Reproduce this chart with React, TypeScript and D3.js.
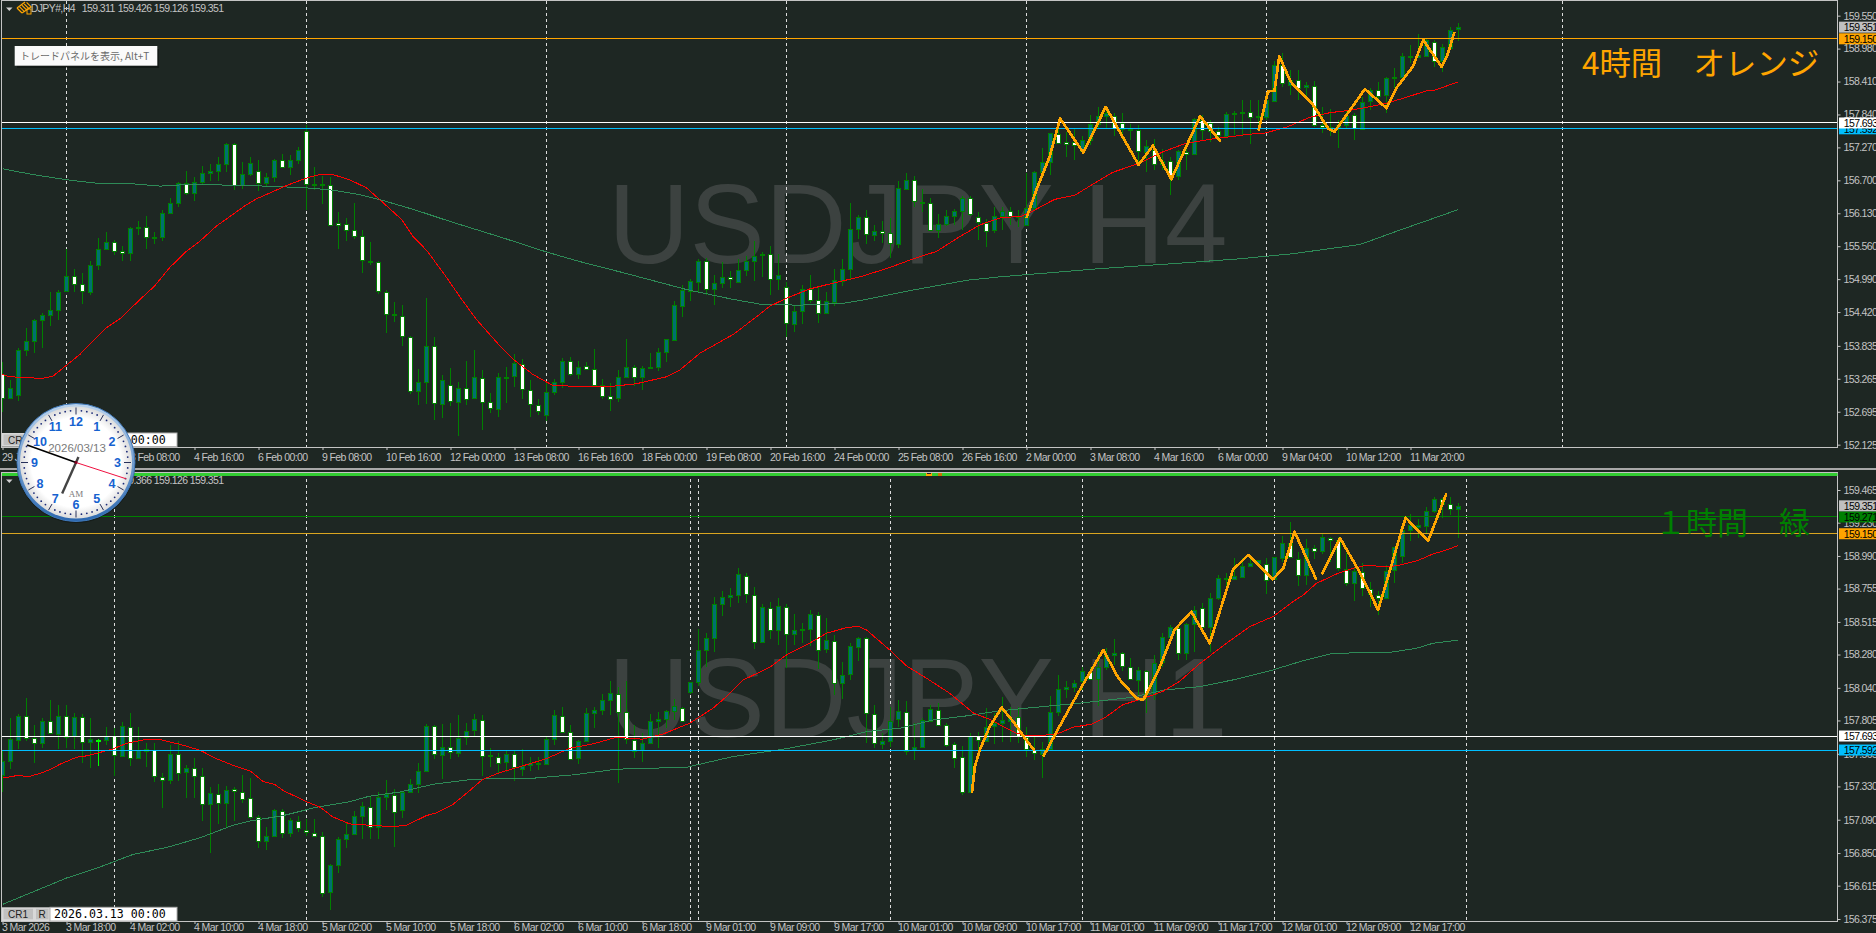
import { useEffect, useRef } from 'react';
import * as d3 from 'd3';

// bars are [open, high, low, close]
type Bar = [number, number, number, number];
type Pt = [number, number]; // [bar index, price]

const h4Bars: Bar[] = [
  [153.34,153.55,152.69,152.92],[152.92,153.25,152.92,153.10],[152.99,153.80,152.88,153.77],[153.76,154.15,153.66,153.92],[153.92,154.30,153.72,154.29],
  [154.28,154.40,153.80,154.37],[154.37,154.77,154.18,154.46],[154.45,154.81,154.29,154.77],[154.79,155.51,154.78,155.05],[155.05,155.16,154.77,154.91],
  [154.91,155.09,154.56,154.79],[154.78,155.30,154.71,155.24],[155.23,155.71,155.15,155.51],[155.51,155.80,155.50,155.63],[155.63,155.66,155.40,155.48],
  [155.48,155.57,155.30,155.44],[155.44,155.89,155.30,155.88],[155.87,156.00,155.76,155.89],[155.89,156.08,155.52,155.72],[155.72,155.81,155.59,155.71],
  [155.71,156.19,155.65,156.13],[156.13,156.39,156.12,156.31],[156.31,156.67,156.23,156.65],[156.65,156.87,156.45,156.48],[156.48,156.75,156.35,156.67],
  [156.67,156.95,156.62,156.83],[156.83,156.99,156.68,156.86],[156.86,157.10,156.68,156.98],[156.98,157.34,156.85,157.33],[157.33,157.34,156.53,156.62],
  [156.62,157.02,156.55,156.81],[156.81,157.10,156.77,157.00],[156.86,157.05,156.51,156.65],[156.65,156.83,156.60,156.76],[156.76,157.07,156.67,157.05],
  [157.05,157.16,156.91,156.93],[156.93,157.14,156.79,157.05],[157.05,157.28,156.99,157.22],[157.55,157.65,156.19,156.64],[156.63,156.93,156.53,156.64],
  [156.63,156.78,156.29,156.64],[156.62,156.76,155.91,155.93],[155.96,156.15,155.52,155.93],[155.95,156.04,155.65,155.84],[155.84,156.30,155.68,155.74],
  [155.73,155.84,155.09,155.31],[155.30,155.64,155.24,155.29],[155.28,155.31,154.74,154.77],[154.77,154.81,154.05,154.39],[154.39,154.60,154.25,154.38],
  [154.35,154.54,153.83,154.00],[153.99,154.00,153.00,153.06],[153.06,153.43,152.81,153.21],[153.21,154.67,152.83,153.83],[153.83,153.98,152.55,152.84],
  [152.84,153.33,152.58,153.25],[153.15,153.46,152.80,152.88],[152.87,153.21,152.28,153.11],[153.11,153.57,152.81,152.92],[152.92,153.77,152.91,153.29],
  [153.28,153.42,152.38,152.87],[152.87,153.02,152.67,152.76],[152.73,153.36,152.61,153.29],[153.28,153.47,152.85,153.30],[153.30,153.69,153.12,153.53],
  [153.52,153.60,152.91,153.08],[153.07,153.24,152.61,152.82],[152.81,152.91,152.64,152.70],[152.64,153.21,152.53,153.03],[153.03,153.27,152.99,153.21],
  [153.21,153.63,153.10,153.58],[153.57,153.65,153.31,153.35],[153.35,153.58,153.26,153.47],[153.49,153.55,153.42,153.44],[153.44,153.78,153.15,153.17],
  [153.16,153.27,152.92,152.97],[152.97,153.20,152.71,152.91],[152.92,153.41,152.87,153.29],[153.29,153.95,153.28,153.47],[153.47,153.50,153.14,153.30],
  [153.30,153.48,153.07,153.46],[153.46,153.72,153.45,153.47],[153.47,153.80,153.40,153.73],[153.73,153.96,153.56,153.96],[153.95,154.62,153.92,154.55],
  [154.54,154.88,154.33,154.81],[154.79,155.00,154.62,154.96],[154.95,155.34,154.75,155.31],[155.31,155.36,154.71,154.82],[154.82,155.06,154.54,154.93],
  [154.93,155.29,154.83,155.03],[155.02,155.13,154.83,154.98],[154.94,155.33,154.93,155.15],[155.15,155.39,155.05,155.31],[155.30,155.65,154.95,155.39],
  [155.41,155.46,155.03,155.43],[155.42,155.56,154.71,154.99],[154.99,155.43,154.81,155.06],[154.85,154.94,153.99,154.22],[154.22,154.52,154.07,154.44],
  [154.44,154.88,154.22,154.82],[154.82,155.06,154.58,154.63],[154.63,154.85,154.23,154.41],[154.41,154.77,154.40,154.61],[154.60,155.16,154.52,154.98],
  [154.97,155.33,154.87,155.17],[155.17,156.30,154.97,155.86],[155.86,156.10,155.69,156.07],[156.06,156.19,155.59,155.77],[155.75,155.93,155.65,155.82],
  [155.82,156.00,155.62,155.79],[155.78,156.05,155.35,155.60],[155.60,156.68,155.53,156.57],[156.56,156.83,156.54,156.71],[156.70,156.77,156.24,156.33],
  [156.33,156.55,156.16,156.32],[156.30,156.40,155.82,155.84],[155.84,156.11,155.70,155.94],[155.94,156.19,155.91,156.08],[156.08,156.20,155.92,156.17],
  [156.17,156.43,155.84,156.39],[156.39,156.43,156.08,156.12],[156.06,156.15,155.66,155.98],[155.97,156.03,155.54,155.84],[155.84,156.24,155.78,156.08],
  [156.08,156.24,155.84,156.17],[156.17,156.24,155.92,156.08],[156.09,156.19,155.90,156.07],[155.93,156.82,155.92,156.22],[156.22,156.86,156.19,156.84],
  [156.84,157.26,156.77,157.01],[157.01,157.52,156.80,157.52],[157.51,157.75,157.33,157.36],[157.36,157.53,157.11,157.33],[157.36,157.60,157.06,157.30],
  [157.20,157.46,157.17,157.39],[157.39,157.83,157.32,157.67],[157.67,157.97,157.58,157.81],[157.81,157.97,157.60,157.86],[157.82,157.87,157.46,157.62],
  [157.70,157.86,157.40,157.60],[157.58,157.68,157.40,157.56],[157.57,157.66,157.01,157.20],[157.20,157.40,156.85,157.30],[157.22,157.41,156.88,156.98],
  [156.97,157.25,156.88,157.03],[157.03,157.11,156.44,156.77],[156.77,157.22,156.71,157.20],[157.19,157.34,156.88,157.16],[157.15,157.78,157.13,157.76],
  [157.75,157.83,157.40,157.57],[157.69,157.75,157.37,157.56],[157.55,157.62,157.40,157.48],[157.47,157.88,157.46,157.85],[157.84,157.90,157.49,157.86],
  [157.86,158.09,157.46,157.88],[157.88,158.09,157.33,157.79],[157.81,158.09,157.55,157.80],[157.80,158.12,157.75,158.09],[158.08,158.76,158.07,158.70],
  [158.69,158.90,158.32,158.37],[158.36,158.61,158.18,158.44],[158.43,158.61,158.09,158.30],[158.31,158.41,158.09,158.35],[158.34,158.42,157.63,157.66],
  [157.66,157.97,157.52,157.63],[157.62,157.93,157.46,157.63],[157.61,157.75,157.26,157.66],[157.66,157.92,157.58,157.82],[157.83,157.87,157.39,157.60],
  [157.60,158.14,157.58,158.06],[158.08,158.29,157.91,158.27],[158.27,158.40,158.03,158.17],[158.17,158.48,157.86,158.47],[158.47,158.64,158.29,158.49],
  [158.48,158.90,158.44,158.85],[158.84,159.04,158.73,158.86],[158.84,159.23,158.81,158.87],[158.86,159.16,158.83,159.13],[159.10,159.13,158.67,158.77],
  [158.76,159.06,158.57,159.00],[159.00,159.35,158.96,159.31],[159.31,159.42,159.12,159.351],
];

const h1Bars: Bar[] = [
  [157.41,157.59,157.29,157.51],[157.51,157.82,157.455,157.67],[157.67,157.85,157.60,157.84],[157.84,157.97,157.66,157.68],[157.676,157.77,157.50,157.64],
  [157.64,157.82,157.61,157.80],[157.80,157.95,157.707,157.712],[157.712,157.92,157.597,157.84],[157.84,157.92,157.61,157.69],[157.69,157.86,157.60,157.83],
  [157.83,157.85,157.50,157.65],[157.645,157.82,157.465,157.67],[157.66,157.67,157.477,157.665],[157.662,157.76,157.63,157.693],[157.69,157.75,157.407,157.55],
  [157.55,157.796,157.544,157.765],[157.76,157.86,157.477,157.54],[157.537,157.755,157.53,157.592],[157.58,157.64,157.472,157.597],[157.592,157.64,157.364,157.402],
  [157.40,157.424,157.177,157.376],[157.374,157.628,157.347,157.56],[157.566,157.657,157.37,157.43],[157.429,157.484,157.249,157.46],[157.46,157.532,157.25,157.402],
  [157.402,157.462,157.083,157.2],[157.2,157.328,156.853,157.28],[157.278,157.347,157.062,157.215],[157.213,157.335,157.035,157.306],[157.314,157.328,157.083,157.297],
  [157.292,157.412,157.208,157.244],[157.249,157.393,157.093,157.114],[157.112,157.124,156.889,156.937],[156.932,157.04,156.872,156.97],[156.968,157.167,156.968,157.158],
  [157.155,157.165,156.958,157.0],[156.992,157.1,156.968,157.086],[157.083,157.117,157.002,157.035],[157.016,157.093,156.973,157.0],[156.997,157.093,156.968,156.978],
  [156.975,157.004,156.536,156.567],[156.567,156.771,156.44,156.762],[156.762,156.968,156.709,156.949],[156.946,157.069,156.889,156.985],[156.982,157.155,156.978,157.114],
  [157.112,157.22,156.951,157.186],[157.184,157.256,156.951,157.04],[157.035,157.287,156.951,157.251],[157.251,157.376,157.16,157.273],[157.27,157.309,156.896,157.15],
  [157.155,157.287,157.102,157.287],[157.285,157.381,157.28,157.345],[157.342,157.501,157.285,157.438],[157.436,157.779,157.431,157.762],[157.762,157.772,157.525,157.561],
  [157.558,157.779,157.383,157.616],[157.616,157.784,157.527,157.578],[157.575,157.842,157.544,157.681],[157.681,157.784,157.628,157.726],[157.731,157.849,157.688,157.813],
  [157.81,157.842,157.407,157.554],[157.554,157.604,157.472,157.549],[157.544,157.568,157.424,157.503],[157.502,157.593,157.437,157.562],[157.567,157.593,157.372,157.471],
  [157.459,157.598,157.408,157.48],[157.48,157.54,157.442,157.497],[157.49,157.545,157.449,157.497],[157.49,157.689,157.485,157.67],[157.67,157.881,157.629,157.843],
  [157.84,157.9,157.713,157.727],[157.725,157.773,157.526,157.533],[157.531,157.665,157.492,157.655],[157.653,157.893,157.648,157.857],[157.857,157.905,157.754,157.879],
  [157.879,157.996,157.845,157.951],[157.951,158.09,157.845,158.001],[157.999,158.049,157.353,157.871],[157.869,158.09,157.636,157.675],[157.667,157.771,157.535,157.586],
  [157.588,157.713,157.509,157.641],[157.639,157.852,157.636,157.799],[157.799,157.869,157.607,157.814],[157.814,157.881,157.749,157.871],[157.871,157.958,157.809,157.907],
  [157.898,157.905,157.797,157.807],[158.006,158.085,157.996,158.08],[158.078,158.462,158.056,158.311],[158.308,158.438,158.19,158.397],[158.395,158.692,158.301,158.642],
  [158.639,158.738,158.56,158.692],[158.69,158.762,158.625,158.707],[158.707,158.901,158.654,158.858],[158.848,158.87,158.649,158.721],[158.709,158.769,158.323,158.368],
  [158.366,158.642,158.361,158.62],[158.618,158.659,158.392,158.462],[158.452,158.685,158.349,158.627],[158.625,158.642,158.186,158.433],[158.431,158.572,158.349,158.457],
  [158.464,158.505,158.361,158.459],[158.459,158.601,158.342,158.57],[158.567,158.589,158.179,158.318],[158.315,158.541,158.289,158.383],[158.38,158.421,157.989,158.08],
  [158.078,158.227,157.96,158.133],[158.135,158.361,158.097,158.339],[158.337,158.409,158.234,158.399],[158.397,158.409,157.641,157.857],[157.855,157.917,157.607,157.648],
  [157.634,157.713,157.598,157.655],[157.66,157.905,157.617,157.804],[157.811,157.953,157.756,157.871],[157.869,157.943,157.557,157.591],[157.598,157.785,157.521,157.617],
  [157.615,157.821,157.605,157.807],[157.802,157.919,157.797,157.886],[157.883,157.929,157.768,157.778],[157.775,157.785,157.617,157.634],[157.639,157.653,157.466,157.54],
  [157.545,157.622,157.271,157.295],[157.293,157.713,157.288,157.696],[157.696,157.723,157.569,157.665],[157.66,157.893,157.653,157.761],[157.761,157.857,157.636,157.785],
  [157.79,157.972,157.653,157.809],[157.804,157.905,157.653,157.826],[157.833,157.905,157.641,157.694],[157.689,157.761,157.545,157.6],[157.593,157.701,157.521,157.569],
  [157.564,157.653,157.394,157.598],[157.598,157.982,157.593,157.864],[157.862,158.133,157.838,158.03],[158.03,158.09,157.965,158.044],[158.042,158.097,158.013,158.073],
  [158.085,158.193,158.025,158.159],[158.157,158.193,158.097,158.104],[158.102,158.301,157.91,158.188],[158.193,158.325,158.169,158.277],[158.272,158.392,158.205,158.289],
  [158.289,158.301,158.164,158.198],[158.193,158.253,158.097,158.104],[158.097,158.193,157.989,158.167],[158.164,158.169,157.857,158.001],[157.996,158.277,157.953,158.222],
  [158.222,158.438,158.193,158.404],[158.402,158.493,158.385,158.476],[158.469,158.493,158.241,158.289],[158.289,158.505,158.241,158.498],[158.498,158.63,158.301,158.601],
  [158.613,158.649,158.464,158.474],[158.474,158.721,158.301,158.685],[158.685,158.853,158.673,158.829],[158.827,158.865,158.764,158.834],[158.827,158.973,158.817,158.846],
  [158.841,158.973,158.834,158.92],[158.918,158.997,158.908,158.942],[158.942,158.961,158.913,158.961],[158.935,158.973,158.716,158.822],[158.822,158.985,158.817,158.98],
  [158.975,159.134,158.949,159.081],[159.081,159.232,158.973,158.98],[158.971,159.021,158.774,158.858],[158.858,159.11,158.781,159.05],[159.047,159.069,158.971,159.023],
  [159.021,159.148,159.004,159.124],[159.122,159.129,158.949,159.11],[159.105,159.124,158.882,158.901],[158.899,159.009,158.776,158.8],[158.793,158.901,158.668,158.882],
  [158.875,158.937,158.704,158.759],[158.755,158.805,158.625,158.716],[158.711,158.74,158.565,158.692],[158.692,158.925,158.687,158.884],[158.889,159.057,158.798,159.057],
  [158.99,159.201,158.937,159.177],[159.177,159.29,159.098,159.211],[159.201,159.254,159.117,159.213],[159.201,159.345,159.153,159.311],[159.309,159.412,159.297,159.398],
  [159.398,159.405,159.261,159.364],[159.367,159.412,159.285,159.333],[159.331,159.369,159.122,159.351],
];

const h4Red: Pt[] = [
  [0,153.34],[0.9,153.30],[2.6,153.29],[4.9,153.27],[6.3,153.31],[8,153.50],[9.7,153.69],[11.3,153.92],[13,154.15],[14.75,154.31],[17.2,154.64],[19,154.87],
  [20.9,155.19],[22.8,155.45],[24.7,155.65],[26.75,155.91],[28.8,156.11],[30.3,156.26],[31.75,156.38],[33.4,156.48],[35.5,156.61],[38,156.74],[39.9,156.81],
  [41.3,156.80],[43.4,156.71],[45.5,156.57],[47.6,156.31],[49.9,156.02],[51.3,155.73],[53,155.49],[55.1,155.10],[57.4,154.64],[59.25,154.29],[62.2,153.83],
  [64,153.585],[66.3,153.34],[68.8,153.15],[72.6,153.13],[75.9,153.13],[79.25,153.18],[83,153.30],[84.7,153.42],[87.2,153.71],[91.3,154.03],[93.8,154.29],
  [95.9,154.52],[98,154.66],[100.9,154.82],[103.8,154.92],[107.2,155.03],[110.9,155.19],[113.8,155.34],[116.75,155.47],[119.7,155.73],[122.2,155.93],[124.7,156.05],
  [127.4,156.08],[128.8,156.17],[131.5,156.37],[134,156.44],[136.75,156.67],[138.8,156.84],[142.2,157.0],[145,157.19],[147.9,157.34],[150.9,157.41],[153.8,157.46],
  [155.9,157.50],[157.6,157.51],[160.5,157.62],[163.4,157.79],[165.9,157.87],[168.8,157.92],[172.6,158.02],[175.1,158.12],[178,158.25],[179,158.26],[181.9,158.40],
];
const h4Green: Pt[] = [
  [0,156.90],[3.8,156.80],[8,156.71],[11.75,156.65],[16.3,156.64],[19.7,156.60],[22.2,156.62],[27.2,156.62],[33,156.60],[38,156.57],[41.3,156.53],[44.7,156.45],
  [47.6,156.35],[51.75,156.18],[55.9,155.99],[62.2,155.72],[68,155.46],[72,155.30],[77.9,155.09],[85.5,154.81],[91.3,154.64],[95,154.55],[99.7,154.54],[105,154.57],
  [108,154.64],[113.8,154.80],[120.5,154.97],[124.7,155.03],[137,155.17],[146.5,155.26],[154.5,155.34],[161.3,155.43],[169.7,155.59],[174.7,155.84],[181.9,156.19],
];
const h1Red: Pt[] = [
  [0,157.39],[2,157.41],[3.2,157.40],[4.5,157.42],[5.9,157.45],[7.2,157.49],[9.25,157.54],[10.5,157.55],[12.2,157.575],[13.8,157.60],[15.5,157.64],[17.2,157.66],
  [18,157.67],[19.7,157.667],[22.2,157.633],[24.7,157.59],[26.75,157.53],[28.9,157.48],[31,157.44],[32.6,157.364],[34,157.345],[35.1,157.30],[38,157.22],[39.7,157.18],
  [41.3,157.11],[43.4,157.06],[45.9,157.05],[48.8,157.04],[50.5,157.05],[53,157.12],[54.25,157.14],[56.3,157.20],[58.4,157.30],[60,157.38],[62.2,157.43],[66.3,157.50],
  [68,157.53],[70.9,157.605],[73.8,157.636],[76.75,157.684],[80,157.67],[82.6,157.708],[85.9,157.785],[88.8,157.893],[90.5,157.977],[92.6,158.097],[95.9,158.188],
  [98,158.277],[100.5,158.349],[103,158.433],[105.5,158.474],[106.95,158.483],[108,158.457],[110.9,158.313],[113,158.198],[115.5,158.109],[118.4,158.001],[121.4,157.857],
  [123.8,157.804],[124.7,157.773],[126.75,157.713],[128,157.696],[129.5,157.696],[131.75,157.706],[133.8,157.756],[136.1,157.778],[138,157.833],[140,157.917],[142.6,157.965],
  [145,158.013],[147.1,158.085],[149.7,158.217],[153,158.361],[155.9,158.481],[158.8,158.553],[161.3,158.661],[162.6,158.709],[164.25,158.793],[166.75,158.86],[168.8,158.901],
  [170.5,158.923],[172.2,158.915],[174.25,158.918],[177,158.959],[178.8,159.004],[180.5,159.033],[181.9,159.064],
];
const h1Green: Pt[] = [
  [0,156.48],[3.8,156.57],[8,156.67],[12.2,156.75],[16.3,156.84],[20.5,156.89],[24.7,156.96],[28.8,157.05],[30.9,157.08],[35.1,157.12],[39.25,157.18],[43.4,157.22],
  [45.9,157.26],[49.7,157.29],[53.8,157.345],[58,157.376],[62.2,157.39],[66.3,157.389],[71.3,157.413],[76.75,157.454],[85.5,157.468],[91.3,157.545],[97.6,157.598],
  [103.8,157.665],[108,157.725],[112.2,157.749],[116.4,157.809],[120.5,157.838],[124.7,157.875],[128.8,157.898],[134.5,157.929],[141.2,157.972],[145.3,158.025],[149.7,158.049],
  [153.8,158.097],[158.8,158.169],[162.2,158.229],[166.3,158.289],[173.5,158.296],[176.75,158.325],[178.8,158.361],[181.9,158.383],
];

// hand drawn orange zigzags
const h4Zigzag: Pt[][] = [
  [[128,156.05],[129.25,156.54],[130.9,157.11],[132.2,157.77],[135.1,157.18],[137.9,157.97],[142,156.97],[143.8,157.30],[146.1,156.72],[149.7,157.81],[152.25,157.37]],
  [[157,157.56],[158.2,158.24],[159,158.25],[159.6,158.85],[161,158.41],[163.8,158.01],[165.7,157.60],[166.5,157.54],[170.3,158.28],[173,157.95],[174.25,158.30],[176.3,158.67],[177.6,159.13],[179.9,158.66],[180.7,158.90],[181.5,159.27]],
];
const h1Zigzag: Pt[][] = [
  [[121.17,157.281],[121.54,157.473],[122.17,157.593],[123.4,157.761],[124.9,157.898],[126.5,157.785],[127.8,157.677],[129,157.588]],
  [[130.1,157.545],[132,157.749],[134.9,158.049],[137.6,158.313],[139.5,158.109],[141.75,157.965],[142.6,157.953],[144.5,158.169],[146.5,158.457],[148.6,158.589],[150.9,158.361],[153.8,158.889],[155.7,158.997],[158.8,158.822],[160.1,158.901],[161.5,159.165],[164.25,158.817]],
  [[164.9,158.858],[167.2,159.117],[169.5,158.889],[171.96,158.601],[173.2,158.841],[174.9,159.177],[175.4,159.266],[178.2,159.098],[180.5,159.441]],
];

const h4PriceTicks = [159.55, 158.98, 158.41, 157.84, 157.27, 156.7, 156.13, 155.56, 154.99, 154.42, 153.835, 153.265, 152.695, 152.125];
const h1PriceTicks = [159.465, 159.23, 158.99, 158.755, 158.515, 158.28, 158.04, 157.805, 157.565, 157.33, 157.09, 156.85, 156.615, 156.375];

const h4TimeLabels = ['29 Jan 16:00', '2 Feb 00:00', '3 Feb 08:00', '4 Feb 16:00', '6 Feb 00:00', '9 Feb 08:00', '10 Feb 16:00', '12 Feb 00:00', '13 Feb 08:00', '16 Feb 16:00', '18 Feb 00:00', '19 Feb 08:00', '20 Feb 16:00', '24 Feb 00:00', '25 Feb 08:00', '26 Feb 16:00', '2 Mar 00:00', '3 Mar 08:00', '4 Mar 16:00', '6 Mar 00:00', '9 Mar 04:00', '10 Mar 12:00', '11 Mar 20:00'];
const h1TimeLabels = ['3 Mar 2026', '3 Mar 18:00', '4 Mar 02:00', '4 Mar 10:00', '4 Mar 18:00', '5 Mar 02:00', '5 Mar 10:00', '5 Mar 18:00', '6 Mar 02:00', '6 Mar 10:00', '6 Mar 18:00', '9 Mar 01:00', '9 Mar 09:00', '9 Mar 17:00', '10 Mar 01:00', '10 Mar 09:00', '10 Mar 17:00', '11 Mar 01:00', '11 Mar 09:00', '11 Mar 17:00', '12 Mar 01:00', '12 Mar 09:00', '12 Mar 17:00'];

const h4Periods = [8, 38, 68, 98, 128, 158, 195];
const h1Periods = [14, 38, 86, 87, 111, 135, 159, 183];

const h4Levels = [
  { price: 159.15, color: '#ffa500', tag: '#ffa500', ink: '#000' },
  { price: 157.592, color: '#00bfff', tag: '#00bfff', ink: '#000' },
  { price: 157.693, color: '#ffffff', tag: '#ffffff', ink: '#000' },
];
const h1Levels = [
  { price: 159.271, color: '#008000', tag: '#008000', ink: '#000' },
  { price: 159.15, color: '#daa520', tag: '#ffa500', ink: '#000' },
  { price: 157.592, color: '#00bfff', tag: '#00bfff', ink: '#000' },
  { price: 157.693, color: '#ffffff', tag: '#ffffff', ink: '#000' },
];

const quoteH4 = ['159.311', '159.426', '159.126', '159.351'];
const quoteH1 = ['159.216', '159.366', '159.126', '159.351'];
const clockNumbers = [12, 1, 2, 3, 4, 5, 6, 7, 8, 9, 10, 11];
const clockTime = [6, 48, 18];

const W = 1876;
const H = 933;
const BG = '#1e2723';
const FRAME = '#c4c4c4';
const AXIS_X = 1837.5;
const UI_FONT = '"Liberation Sans", Arial, sans-serif';
const CJK_FONT = '"Noto Sans CJK JP", sans-serif';
const LABEL_SIZE = 10.5;
const LABEL_TRACK = -0.6;

const x = d3.scaleLinear().domain([0, 182]).range([2.5, 1458.5]);
const yH4 = d3.scaleLinear().domain([159.55, 152.125]).range([15.67, 444.67]);
const yH1 = d3.scaleLinear().domain([159.465, 156.375]).range([490, 919]);

interface PanelSpec {
  id: string;
  bars: Bar[];
  red: Pt[];
  green: Pt[];
  zigzag: Pt[][];
  y: d3.ScaleLinear<number, number>;
  top: number;
  bottom: number;
  priceTicks: number[];
  timeLabels: string[];
  timeLabelY: number;
  periods: number[];
  levels: typeof h4Levels;
  lastPrice: number;
  watermark: string;
  watermarkY: number;
  highlightBar?: number;
}

function drawPanel(svg: d3.Selection<SVGSVGElement, unknown, null, undefined>, p: PanelSpec) {
  const clipId = `clip-${p.id}`;
  svg.append('clipPath').attr('id', clipId).append('rect')
    .attr('x', 2).attr('y', p.top).attr('width', AXIS_X - 2).attr('height', p.bottom - p.top);

  const plot = svg.append('g').attr('clip-path', `url(#${clipId})`);

  plot.append('text')
    .attr('x', 608).attr('y', p.watermarkY)
    .attr('font-family', UI_FONT).attr('font-size', 113)
    .attr('fill', '#3c4240')
    .text(p.watermark);

  plot.append('g').selectAll('line').data(p.periods).join('line')
    .attr('x1', (d) => x(d)).attr('x2', (d) => x(d))
    .attr('y1', p.top).attr('y2', p.bottom)
    .attr('stroke', '#dcdcdc').attr('stroke-dasharray', '3,3')
    .attr('shape-rendering', 'crispEdges');

  const candles = plot.append('g').attr('shape-rendering', 'crispEdges');
  p.bars.forEach((b, i) => {
    const [open, high, low, close] = b;
    const cx = x(i);
    const wick = i === p.highlightBar ? '#00ff00' : '#008000';
    candles.append('line')
      .attr('x1', cx).attr('x2', cx)
      .attr('y1', p.y(high)).attr('y2', p.y(low))
      .attr('stroke', wick);
    const top = p.y(Math.max(open, close));
    const bot = p.y(Math.min(open, close));
    candles.append('rect')
      .attr('x', cx - 2).attr('width', 4)
      .attr('y', Math.round(top) + 0.5).attr('height', Math.max(Math.round(bot - top), 1))
      .attr('fill', close >= open ? '#007070' : '#ffffff')
      .attr('stroke', wick);
  });

  const maLine = d3.line<Pt>().x((d) => x(d[0])).y((d) => p.y(d[1]));
  plot.append('path').attr('d', maLine(p.green)).attr('fill', 'none').attr('stroke', '#2e8b57').attr('shape-rendering', 'crispEdges');
  plot.append('path').attr('d', maLine(p.red)).attr('fill', 'none').attr('stroke', '#ff0000').attr('shape-rendering', 'crispEdges');

  plot.append('g').selectAll('line').data(p.levels).join('line')
    .attr('x1', 2).attr('x2', AXIS_X)
    .attr('y1', (d) => p.y(d.price)).attr('y2', (d) => p.y(d.price))
    .attr('stroke', (d) => d.color)
    .attr('shape-rendering', 'crispEdges');

  plot.append('g').selectAll('path').data(p.zigzag).join('path')
    .attr('d', (d) => maLine(d))
    .attr('fill', 'none').attr('stroke', '#ffa500').attr('stroke-width', 2.7)
    .attr('stroke-linejoin', 'round').attr('shape-rendering', 'crispEdges');

  // price axis
  const yAxis = svg.append('g')
    .attr('transform', `translate(${AXIS_X},0)`)
    .call(d3.axisRight(p.y).tickValues(p.priceTicks).tickSize(3).tickPadding(3).tickFormat(d3.format('.3f') as any));
  yAxis.select('.domain').remove();
  yAxis.selectAll('line').attr('stroke', FRAME);
  yAxis.selectAll('text')
    .attr('fill', '#c4c4c4').attr('font-family', UI_FONT).attr('font-size', LABEL_SIZE).attr('letter-spacing', LABEL_TRACK);

  // last price and level tags
  const tags = svg.append('g').attr('font-family', UI_FONT).attr('font-size', LABEL_SIZE).attr('letter-spacing', LABEL_TRACK);
  const tagRows = [...p.levels, { price: p.lastPrice, color: '', tag: '#c0c0c0', ink: '#000' }];
  tagRows.forEach((t) => {
    const ty = p.y(t.price);
    tags.append('rect').attr('x', 1839).attr('y', ty - 5.5).attr('width', W - 1839).attr('height', 11).attr('fill', t.tag);
    tags.append('text').attr('x', 1843.7).attr('y', ty + 3.8).attr('fill', t.ink).text(t.price.toFixed(3));
  });

  // time axis
  const barTicks = p.timeLabels.map((_, i) => i * 8);
  const xAxis = svg.append('g')
    .attr('transform', `translate(0,${p.bottom})`)
    .call(d3.axisBottom(x).tickValues(barTicks).tickSize(3).tickFormat((d) => p.timeLabels[+d / 8]));
  xAxis.select('.domain').remove();
  xAxis.selectAll('line').attr('stroke', FRAME);
  xAxis.selectAll('text')
    .attr('text-anchor', 'start').attr('x', -1).attr('y', p.timeLabelY).attr('dy', 0)
    .attr('fill', '#c4c4c4').attr('font-family', UI_FONT).attr('font-size', LABEL_SIZE).attr('letter-spacing', LABEL_TRACK);

  // frame
  svg.append('path')
    .attr('d', `M1.5,${p.bottom + 0.5}V${p.top - 1}H${AXIS_X}V${p.bottom + 0.5}H1.5`)
    .attr('fill', 'none').attr('stroke', FRAME).attr('shape-rendering', 'crispEdges');
}

function drawHeader(svg: d3.Selection<SVGSVGElement, unknown, null, undefined>, baseY: number, symbol: string, quote: string[], icon: boolean) {
  const g = svg.append('g').attr('font-family', UI_FONT).attr('font-size', LABEL_SIZE).attr('letter-spacing', LABEL_TRACK).attr('fill', '#c4c4c4');
  svg.append('path').attr('d', `M6,${baseY - 4.5}h6.5l-3.2,3.5z`).attr('fill', '#d0d0d0');
  if (icon) {
    const hammer = svg.append('g').attr('fill', 'none').attr('stroke', '#ffa500').attr('stroke-width', 1.2);
    d3.range(5).forEach((k) => {
      hammer.append('line').attr('x1', 17 + k * 2.4).attr('y1', 8 - k * 1.4).attr('x2', 22 + k * 2.4).attr('y2', 13 - k * 1.4);
    });
    hammer.append('line').attr('x1', 17).attr('y1', 8).attr('x2', 25).attr('y2', 2);
    hammer.append('line').attr('x1', 22).attr('y1', 13).attr('x2', 31).attr('y2', 7);
    hammer.append('rect').attr('x', 27).attr('y', 9).attr('width', 4).attr('height', 5).attr('stroke-width', 1);
  }
  g.append('text').attr('x', 30.7).attr('y', baseY).text(symbol);
  quote.forEach((q, i) => {
    g.append('text').attr('x', 81.7 + i * 36).attr('y', baseY).text(q);
  });
}

function ChartStatus({ y }: { y: number }) {
  return (
    <g>
      <rect x={2} y={y} width={48} height={13.7} fill="#d8d8d8" />
      <rect x={3.5} y={y + 1.5} width={29.5} height={10.5} fill="#c0c0c0" />
      <rect x={36} y={y + 1.5} width={12.5} height={10.5} fill="#c0c0c0" />
      <text x={18} y={y + 10.5} textAnchor="middle" fontFamily={UI_FONT} fontSize={10} fill="#222">CR1</text>
      <text x={42} y={y + 10.5} textAnchor="middle" fontFamily={UI_FONT} fontSize={10} fill="#222">R</text>
      <rect x={50} y={y} width={127} height={13.7} fill="#ffffff" stroke="#b0b0b0" />
      <text x={54} y={y + 10.8} fontFamily='"DejaVu Sans Mono", monospace' fontSize={11.6} fill="#000">2026.03.13 00:00</text>
    </g>
  );
}

function Clock() {
  const cx = 76;
  const cy = 462.5;
  const polar = (deg: number, r: number) => {
    const a = ((deg - 90) * Math.PI) / 180;
    return [cx + r * Math.cos(a), cy + r * Math.sin(a)];
  };
  const [hh, mm, ss] = clockTime;
  const hourDeg = (hh + mm / 60) * 30;
  const minDeg = (mm + ss / 60) * 6;
  const secDeg = ss * 6;
  const hand = (deg: number, len: number, tail: number) => {
    const [x1, y1] = polar(deg + 180, tail);
    const [x2, y2] = polar(deg, len);
    return { x1, y1, x2, y2 };
  };
  return (
    <g>
      <defs>
        <radialGradient id="clockFace">
          <stop offset="0.8" stopColor="#ffffff" />
          <stop offset="1" stopColor="#dcdcdc" />
        </radialGradient>
        <linearGradient id="clockRing" x1="0" y1="0" x2="0" y2="1">
          <stop offset="0" stopColor="#b9d3ee" />
          <stop offset="1" stopColor="#2c68b0" />
        </linearGradient>
      </defs>
      <circle cx={cx} cy={cy + 1} r={59.5} fill="#000" opacity={0.25} />
      <circle cx={cx} cy={cy} r={59} fill="url(#clockRing)" stroke="#3f78b8" />
      <circle cx={cx} cy={cy} r={56} fill="url(#clockFace)" />
      {d3.range(60).map((m) => {
        const [px, py] = polar(m * 6, 52);
        if (m % 5 === 0) {
          const [a, b] = polar(m * 6, 48);
          const [c, d] = polar(m * 6, 55);
          return <line key={m} x1={a} y1={b} x2={c} y2={d} stroke="#26305a" strokeWidth={1} />;
        }
        return <circle key={m} cx={px} cy={py} r={0.9} fill="#1a2a78" />;
      })}
      {clockNumbers.map((n, i) => {
        const [px, py] = polar(i * 30, 41.5);
        return (
          <text key={n} x={px} y={py + 4.5} textAnchor="middle" fontFamily={UI_FONT} fontWeight="bold" fontSize={12.5} fill="#1662d0">{n}</text>
        );
      })}
      <text x={cx + 1} y={452} textAnchor="middle" fontFamily={UI_FONT} fontSize={11.5} fill="#7a7a7a">2026/03/13</text>
      <text x={cx} y={497} textAnchor="middle" fontFamily='"Liberation Serif", serif' fontSize={9} fill="#7a7a7a">AM</text>
      <line {...hand(hourDeg, 34, 6)} stroke="#444" strokeWidth={2.4} />
      <line {...hand(minDeg, 52, 0)} stroke="#000" strokeWidth={1.6} />
      <line {...hand(secDeg, 53, 0)} stroke="#f01040" strokeWidth={1} />
      <circle cx={cx} cy={cy} r={1.4} fill="#800020" />
    </g>
  );
}

export default function App() {
  const plotRef = useRef<SVGSVGElement>(null);

  useEffect(() => {
    if (!plotRef.current) return;
    const svg = d3.select(plotRef.current);
    svg.selectAll('*').remove();

    drawPanel(svg, {
      id: 'h4', bars: h4Bars, red: h4Red, green: h4Green, zigzag: h4Zigzag, y: yH4,
      top: 1, bottom: 447, priceTicks: h4PriceTicks, timeLabels: h4TimeLabels, timeLabelY: 13.5, periods: h4Periods,
      levels: h4Levels, lastPrice: 159.351, watermark: 'USDJPY H4', watermarkY: 263,
    });
    drawPanel(svg, {
      id: 'h1', bars: h1Bars, red: h1Red, green: h1Green, zigzag: h1Zigzag, y: yH1,
      top: 473, bottom: 921, priceTicks: h1PriceTicks, timeLabels: h1TimeLabels, timeLabelY: 9.5, periods: h1Periods,
      levels: h1Levels, lastPrice: 159.351, watermark: 'USDJPY H1', watermarkY: 737, highlightBar: 12,
    });

    svg.append('rect').attr('x', 0).attr('y', 468).attr('width', W).attr('height', 2).attr('fill', '#a8a8a8');
    svg.append('rect').attr('x', 2).attr('y', 473).attr('width', AXIS_X - 2).attr('height', 3).attr('fill', '#32cd32');
    // small markers sitting on the green bar
    svg.append('rect').attr('x', 926).attr('y', 473).attr('width', 6).attr('height', 3).attr('fill', '#ffa500');
    svg.append('rect').attr('x', 927).attr('y', 473).attr('width', 4).attr('height', 1).attr('fill', '#222');
    svg.append('rect').attr('x', 938).attr('y', 473).attr('width', 4).attr('height', 3).attr('fill', '#c87800');

    drawHeader(svg, 12, 'DJPY#,H4', quoteH4, true);
    drawHeader(svg, 484, 'DJPY#,H1', quoteH1, false);

    svg.append('text').attr('x', 1582).attr('y', 75)
      .attr('font-family', CJK_FONT).attr('font-size', 31.4).attr('fill', '#ffa500').text('4時間　オレンジ');
    svg.append('text').attr('x', 1655).attr('y', 534)
      .attr('font-family', CJK_FONT).attr('font-size', 31).attr('fill', '#008000').text('１時間　緑');
  }, []);

  return (
    <div style={{ width: W, height: H, overflow: 'hidden', position: 'relative' }}>
      <style>{`html,body{margin:0;padding:0;background:${BG};overflow:hidden}`}</style>
      <svg ref={plotRef} width={W} height={H} style={{ display: 'block', position: 'absolute', left: 0, top: 0, background: BG }} />
      <svg width={W} height={H} style={{ display: 'block', position: 'absolute', left: 0, top: 0 }}>
        <g>
          <rect x={15} y={47} width={142} height={19} fill="#000" opacity={0.35} transform="translate(2,2)" />
          <rect x={14.7} y={46} width={142.6} height={19.7} fill="#fafafa" />
          <text x={20} y={60} fontFamily={CJK_FONT} fontSize={10} fill="#6a6a6a">トレードパネルを表示, Alt+T</text>
        </g>
        <ChartStatus y={433} />
        <ChartStatus y={907.3} />
        <Clock />
      </svg>
    </div>
  );
}
